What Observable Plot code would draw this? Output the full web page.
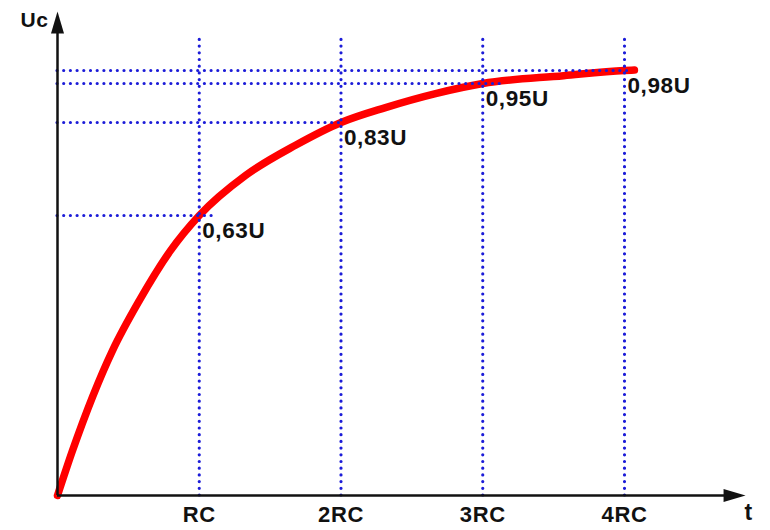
<!DOCTYPE html>
<html><head><meta charset="utf-8">
<script src="https://cdn.jsdelivr.net/npm/d3@7"></script>
<script src="https://cdn.jsdelivr.net/npm/@observablehq/plot@0.6"></script>
<style>body{margin:0;background:#fff} svg text{letter-spacing:0.6px}</style>
</head><body><div id="chart"></div>
<script>
// Curve points (t in units of RC, Uc in units of U)
const curveT = [0, 0.106, 0.388, 0.578, 0.797, 1, 1.326, 1.679, 2, 2.314, 2.667, 3, 3.57, 4, 4.07];
const curveU = [0, 0.101, 0.326, 0.439, 0.551, 0.63, 0.716, 0.781, 0.83, 0.876, 0.919, 0.95, 0.968, 0.98, 0.981];

const levels = [0.63, 0.83, 0.95, 0.98];
const levelLabels = ["0,63U", "0,83U", "0,95U", "0,98U"];
const levelLineEnd = [1.09, 2.02, 3.16, 4.05];
const ticks = [1, 2, 3, 4];
const tickLabels = ["RC", "2RC", "3RC", "4RC"];
const yGuideTop = 1.056;
const yAxisEnd = 1.116;
const xAxisEnd = 4.854;

const curve = curveT.map((t, i) => ({t, u: curveU[i]}));
const levelData = levels.map((u, i) => ({u, label: levelLabels[i], end: levelLineEnd[i], t: ticks[i]}));

const arrowHead = {
  draw(ctx) {
    ctx.moveTo(0, 0);
    ctx.lineTo(6.5, 22);
    ctx.lineTo(-6.5, 22);
    ctx.closePath();
  }
};

const blue = "#1c1cd8";
const font = "'Liberation Sans', Arial, sans-serif";
const dotted = {stroke: blue, strokeWidth: 3.2, strokeDasharray: "0,6.7", strokeLinecap: "round"};

const chart = Plot.plot({
  width: 770,
  height: 530,
  margin: 0,
  style: {fontFamily: font, background: "#fff"},
  x: {type: "linear", domain: [0, 4], range: [57, 624], axis: null},
  y: {type: "linear", domain: [0, ...levels], range: [495, 215, 122, 83, 70], axis: null},
  marks: [
    Plot.line(curve, {x: "t", y: "u", stroke: "#ff0000", strokeWidth: 7.5, curve: "monotone-x", strokeLinecap: "round"}),
    Plot.ruleX(ticks, {x: d => d, y1: 0, y2: yGuideTop, ...dotted}),
    Plot.ruleY(levelData, {y: "u", x1: 0, x2: "end", ...dotted}),
    Plot.ruleY([0], {x1: 0, x2: xAxisEnd - 0.05, stroke: "#111", strokeWidth: 2.5}),
    Plot.ruleX([0], {y1: 0, y2: yAxisEnd - 0.05, stroke: "#111", strokeWidth: 2.5}),
    Plot.dot([0], {x: 0, y: yAxisEnd, symbol: arrowHead, fill: "#111", stroke: null}),
    Plot.dot([0], {x: xAxisEnd, y: 0, symbol: arrowHead, rotate: 90, fill: "#111", stroke: null}),
    Plot.text(levelData, {x: "t", y: "u", text: "label", textAnchor: "start", lineAnchor: "top", dx: 3, dy: 7, fontSize: 22.5, fontWeight: "bold", fill: "#111", fontFamily: font}),
    Plot.text(ticks, {x: d => d, y: 0, text: (d, i) => tickLabels[i], lineAnchor: "top", dy: 11, fontSize: 22, fontWeight: "bold", fill: "#111", fontFamily: font}),
    Plot.text(["t"], {x: xAxisEnd, y: 0, text: d => d, lineAnchor: "top", dx: 3, dy: 8, fontSize: 23, fontWeight: "bold", fill: "#111", fontFamily: font}),
    Plot.text(["Uc"], {x: 0, y: yAxisEnd, text: d => d, textAnchor: "end", lineAnchor: "top", dx: -9, dy: 1, fontSize: 21, fontWeight: "bold", fill: "#111", fontFamily: font})
  ]
});
document.getElementById("chart").appendChild(chart);
</script>
</body></html>
